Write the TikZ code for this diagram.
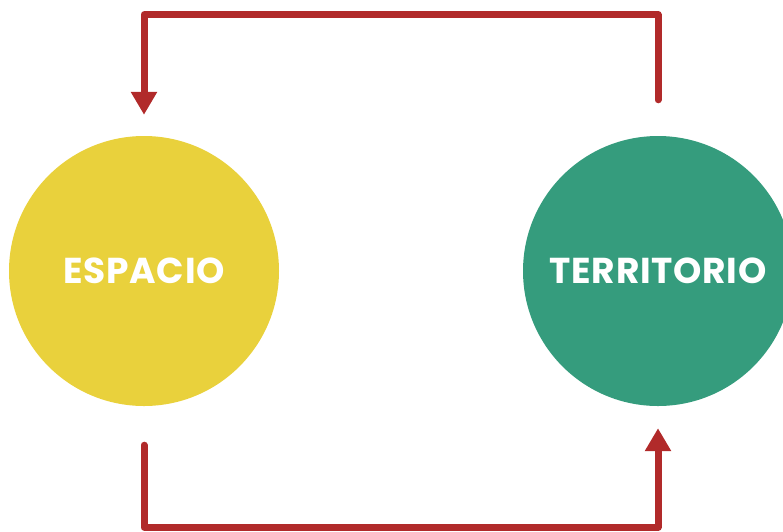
\documentclass[tikz,border=0pt]{standalone}
\usepackage{fontspec}
\setmainfont{Poppins}[LetterSpace=2]
\usetikzlibrary{arrows.meta}
\definecolor{yellowc}{HTML}{E9D13C}
\definecolor{greenc}{HTML}{359C7D}
\definecolor{redc}{HTML}{B12A2A}
\begin{document}
\begin{tikzpicture}[x=1pt,y=1pt,
  circ/.style={circle, minimum size=270pt, inner sep=0pt, text=white, font=\fontsize{36}{36}\selectfont\bfseries},
  conn/.style={draw=redc, line width=7pt, line cap=round, line join=round, -{Triangle[width=25pt,length=23pt]}}]
\useasboundingbox (0,0) rectangle (783,-531);
\clip (0,0) rectangle (783,-531);
\node[circ, fill=yellowc] (esp) at (144,-271) {ESPACIO};
\node[circ, fill=greenc] (ter) at (658,-271) {TERRITORIO};
\draw[conn] ([yshift=36pt]ter.north) -- ++(0,85) -| ([yshift=21pt]esp.north);
\draw[conn] ([yshift=-39pt]esp.south) -- ++(0,-82) -| ([yshift=-22pt]ter.south);
\end{tikzpicture}
\end{document}
